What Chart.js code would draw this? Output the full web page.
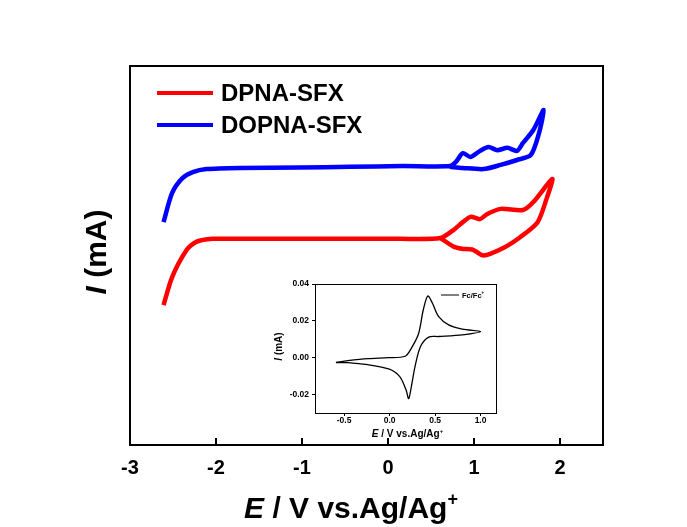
<!DOCTYPE html>
<html>
<head>
<meta charset="utf-8">
<script src="https://cdn.jsdelivr.net/npm/chart.js@4.4.1/dist/chart.umd.min.js"></script>
<style>
  body { margin: 0; background: #fff; }
  #wrap { position: relative; width: 687px; height: 527px; }
  canvas { position: absolute; }
  #main { left: 0; top: 0; }
  #inset { left: 262px; top: 272px; }
</style>
</head>
<body>
<div id="wrap">
  <canvas id="main" width="687" height="527"></canvas>
  <canvas id="inset" width="245" height="172"></canvas>
</div>
<script>
const FONT = '"Liberation Sans", Arial, sans-serif';

// main plot: potential (V vs Ag/Ag+) and current (arbitrary units, no y scale shown)
const potentialTicks = [-3, -2, -1, 0, 1, 2];
const seriesNames = ['DPNA-SFX', 'DOPNA-SFX'];
const seriesColors = ['#ff0000', '#0000ff'];

const dpnaE = [-2.61, -2.51, -2.34, -2.23, -2.04, -1.72, -1.03, 0.14, 0.61,
  0.76, 0.87, 0.96, 1.07, 1.15, 1.31, 1.57, 1.69, 1.91,
  1.85, 1.74, 1.54, 1.34, 1.11, 0.99, 0.86, 0.76, 0.61];
const dpnaI = [36.9, 44.3, 51.5, 53.6, 54.4, 54.4, 54.4, 54.4, 54.6,
  56.7, 58.8, 60.2, 59.6, 60.9, 62.3, 62.0, 64.1, 70.2,
  65.4, 58.8, 54.9, 52.0, 50.0, 51.5, 51.8, 52.4, 54.6];

const dopnaE = [-2.61, -2.51, -2.39, -2.27, -2.11, -1.72, -1.03, -0.44, 0.17, 0.72,
  0.79, 0.87, 0.96, 1.07, 1.17, 1.27, 1.39, 1.50, 1.57, 1.69, 1.81,
  1.75, 1.66, 1.50, 1.31, 1.11, 0.87, 0.72];
const dopnaI = [58.8, 66.5, 70.4, 72.0, 72.8, 73.1, 73.2, 73.4, 73.6, 73.6,
  74.7, 77.0, 76.0, 77.6, 78.6, 77.8, 78.4, 77.6, 79.7, 83.1, 88.4,
  81.8, 76.5, 75.2, 73.9, 72.8, 73.1, 73.4];

// inset: ferrocene reference
const fcName = 'Fc/Fc';
const fcE = [-0.59, -0.46, -0.24, -0.01, 0.17, 0.24, 0.32, 0.37, 0.42, 0.47, 0.54, 0.65, 0.80, 1.00,
  0.80, 0.54, 0.43, 0.34, 0.28, 0.24, 0.21, 0.18, 0.11, -0.01, -0.24, -0.46, -0.59];
const fcI = [-0.0025, -0.0016, -0.0005, 0.0, 0.0008, 0.0052, 0.0133, 0.0259, 0.0335, 0.0297, 0.0223, 0.0178, 0.0155, 0.0142,
  0.0124, 0.0115, 0.0112, 0.0061, -0.0047, -0.0155, -0.0222, -0.0173, -0.0101, -0.0061, -0.0038, -0.0027, -0.0027];
const insetETicks = [-0.5, 0.0, 0.5, 1.0];
const insetITicks = [-0.02, 0.00, 0.02, 0.04];

const toPoints = (xs, ys) => xs.map((x, i) => ({ x: x, y: ys[i] }));

// draws text pieces (italic / superscript) one after another
function richText(ctx, parts, size, x, y, align) {
  const fontOf = p => (p.italic ? 'italic ' : '') + 'bold ' + (p.sup ? size * 0.6 : size) + 'px ' + FONT;
  let total = 0;
  parts.forEach(p => { ctx.font = fontOf(p); total += ctx.measureText(p.t).width; });
  let cx = align === 'center' ? x - total / 2 : x;
  ctx.textAlign = 'left';
  ctx.textBaseline = 'alphabetic';
  parts.forEach(p => {
    ctx.font = fontOf(p);
    ctx.fillText(p.t, cx, p.sup ? y - size * 0.45 : y);
    cx += ctx.measureText(p.t).width;
  });
}

const mainDecor = {
  id: 'mainDecor',
  afterDraw(chart) {
    const ctx = chart.ctx;
    const a = chart.chartArea;
    const xs = chart.scales.x;
    ctx.save();
    ctx.strokeStyle = '#000';
    ctx.fillStyle = '#000';
    ctx.lineWidth = 2;
    ctx.strokeRect(a.left, a.top, a.right - a.left, a.bottom - a.top);
    ctx.beginPath();
    xs.ticks.forEach(t => {
      const px = xs.getPixelForValue(t.value);
      ctx.moveTo(px, a.bottom);
      ctx.lineTo(px, a.bottom - 7);
    });
    ctx.stroke();

    richText(ctx, [{ t: 'E', italic: true }, { t: ' / V vs.Ag/Ag' }, { t: '+', sup: true }], 30, 351, 518, 'center');
    ctx.save();
    ctx.translate(106, 252);
    ctx.rotate(-Math.PI / 2);
    richText(ctx, [{ t: 'I', italic: true }, { t: ' (mA)' }], 30, 0, 0, 'center');
    ctx.restore();

    // legend
    ctx.lineWidth = 4;
    seriesNames.forEach((name, i) => {
      const ly = 93 + i * 32;
      ctx.strokeStyle = seriesColors[i];
      ctx.beginPath();
      ctx.moveTo(157, ly);
      ctx.lineTo(213, ly);
      ctx.stroke();
      ctx.font = 'bold 24px ' + FONT;
      ctx.textBaseline = 'middle';
      ctx.fillStyle = '#000';
      ctx.fillText(name, 221, ly + 1);
    });
    ctx.restore();
  }
};

new Chart(document.getElementById('main'), {
  type: 'scatter',
  data: {
    datasets: [
      {
        label: seriesNames[0],
        data: toPoints(dpnaE, dpnaI),
        showLine: true,
        borderColor: seriesColors[0],
        borderWidth: 4.5,
        pointRadius: 0,
        tension: 0.25
      },
      {
        label: seriesNames[1],
        data: toPoints(dopnaE, dopnaI),
        showLine: true,
        borderColor: seriesColors[1],
        borderWidth: 4.5,
        pointRadius: 0,
        tension: 0.25
      }
    ]
  },
  options: {
    responsive: false,
    animation: false,
    layout: { padding: { top: 66, right: 84, left: 0, bottom: 0 } },
    plugins: { legend: { display: false }, tooltip: { enabled: false } },
    scales: {
      x: {
        type: 'linear',
        min: -3,
        max: 2.5,
        afterFit: s => { s.height = 82; },
        afterBuildTicks: s => { s.ticks = potentialTicks.map(v => ({ value: v })); },
        grid: { drawOnChartArea: false, drawTicks: false },
        border: { display: false },
        ticks: {
          autoSkip: false,
          maxRotation: 0,
          padding: 11,
          color: '#000',
          font: { family: FONT, size: 20, weight: 'bold' }
        }
      },
      y: {
        type: 'linear',
        min: 0,
        max: 100,
        afterFit: s => { s.width = 130; },
        grid: { display: false },
        border: { display: false },
        ticks: { display: false }
      }
    }
  },
  plugins: [mainDecor]
});

const insetDecor = {
  id: 'insetDecor',
  afterDraw(chart) {
    const ctx = chart.ctx;
    const a = chart.chartArea;
    ctx.save();
    ctx.strokeStyle = '#000';
    ctx.fillStyle = '#000';
    ctx.lineWidth = 1;
    ctx.strokeRect(a.left + 0.5, a.top + 0.5, a.right - a.left, a.bottom - a.top);
    richText(ctx, [{ t: 'E', italic: true }, { t: ' / V vs.Ag/Ag' }, { t: '+', sup: true }], 10, (a.left + a.right) / 2 + 2, 165, 'center');
    ctx.save();
    ctx.translate(20, (a.top + a.bottom) / 2 - 2);
    ctx.rotate(-Math.PI / 2);
    richText(ctx, [{ t: 'I', italic: true }, { t: ' (mA)' }], 10, 0, 0, 'center');
    ctx.restore();
    // legend
    ctx.beginPath();
    ctx.moveTo(a.right - 55, a.top + 11);
    ctx.lineTo(a.right - 37, a.top + 11);
    ctx.stroke();
    richText(ctx, [{ t: fcName }, { t: '+', sup: true }], 7.5, a.right - 34, a.top + 13.5, 'left');
    ctx.restore();
  }
};

const insetTickFont = { family: FONT, size: 8.5, weight: 'bold' };
new Chart(document.getElementById('inset'), {
  type: 'scatter',
  data: {
    datasets: [{
      label: fcName,
      data: toPoints(fcE, fcI),
      showLine: true,
      borderColor: '#000',
      borderWidth: 1.3,
      pointRadius: 0,
      tension: 0.3
    }]
  },
  options: {
    responsive: false,
    animation: false,
    layout: { padding: { top: 12, right: 11, left: 0, bottom: 0 } },
    plugins: { legend: { display: false }, tooltip: { enabled: false } },
    scales: {
      x: {
        type: 'linear',
        min: -0.82,
        max: 1.17,
        afterFit: s => { s.height = 31; },
        afterBuildTicks: s => { s.ticks = insetETicks.map(v => ({ value: v })); },
        grid: { drawOnChartArea: false, tickLength: 3, color: '#000' },
        border: { display: false },
        ticks: {
          autoSkip: false,
          maxRotation: 0,
          padding: 0,
          color: '#000',
          font: insetTickFont,
          callback: v => v.toFixed(1)
        }
      },
      y: {
        type: 'linear',
        min: -0.03,
        max: 0.04,
        afterFit: s => { s.width = 53; },
        afterBuildTicks: s => { s.ticks = insetITicks.map(v => ({ value: v })); },
        grid: { drawOnChartArea: false, tickLength: 3, color: '#000' },
        border: { display: false },
        ticks: {
          padding: 3,
          color: '#000',
          font: insetTickFont,
          callback: v => v.toFixed(2)
        }
      }
    }
  },
  plugins: [insetDecor]
});
</script>
</body>
</html>
